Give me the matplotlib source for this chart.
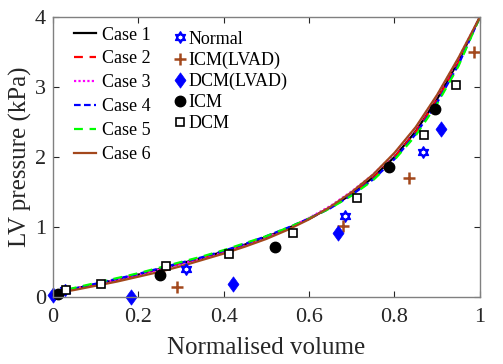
import numpy as np
import matplotlib
matplotlib.use("Agg")
import matplotlib.pyplot as plt
from matplotlib.path import Path

plt.rcParams['font.family'] = ['Liberation Serif', 'DejaVu Serif']

# ---- model curves ----
vol = [0.00, 0.05, 0.10, 0.15, 0.20, 0.25, 0.30, 0.35, 0.40, 0.45, 0.50,
       0.55, 0.60, 0.65, 0.70, 0.75, 0.80, 0.85, 0.90, 0.95, 1.00]
case1 = [0.06, 0.12, 0.18, 0.25, 0.32, 0.40, 0.48, 0.56, 0.65, 0.75, 0.86,
         0.98, 1.12, 1.28, 1.47, 1.71, 2.00, 2.37, 2.83, 3.37, 4.00]
case2 = [0.06, 0.12, 0.18, 0.25, 0.32, 0.40, 0.48, 0.56, 0.65, 0.75, 0.86,
         0.98, 1.12, 1.28, 1.47, 1.70, 2.00, 2.36, 2.82, 3.36, 4.00]
case3 = [0.06, 0.12, 0.18, 0.25, 0.32, 0.39, 0.47, 0.55, 0.64, 0.74, 0.85,
         0.98, 1.13, 1.30, 1.51, 1.75, 2.05, 2.42, 2.88, 3.41, 4.00]
case4 = [0.06, 0.12, 0.19, 0.26, 0.33, 0.41, 0.49, 0.57, 0.66, 0.76, 0.87,
         0.99, 1.12, 1.27, 1.46, 1.68, 1.97, 2.33, 2.78, 3.32, 4.00]
case5 = [0.06, 0.13, 0.20, 0.27, 0.34, 0.42, 0.50, 0.58, 0.67, 0.77, 0.87,
         0.99, 1.12, 1.27, 1.45, 1.67, 1.96, 2.31, 2.76, 3.30, 4.00]
case6 = [0.05, 0.10, 0.16, 0.22, 0.29, 0.36, 0.44, 0.53, 0.62, 0.72, 0.83,
         0.96, 1.11, 1.29, 1.50, 1.75, 2.06, 2.43, 2.89, 3.42, 4.00]

# ---- experimental data ----
normal_x = [0.028, 0.313, 0.684, 0.866]
normal_y = [0.10, 0.40, 1.16, 2.07]
icm_lvad_x = [0.290, 0.680, 0.834, 0.986]
icm_lvad_y = [0.15, 1.02, 1.70, 3.50]
dcm_lvad_x = [0.000, 0.184, 0.422, 0.668, 0.909]
dcm_lvad_y = [0.03, 0.00, 0.19, 0.91, 2.40]
icm_x = [0.012, 0.252, 0.520, 0.788, 0.896]
icm_y = [0.04, 0.31, 0.71, 1.86, 2.68]
dcm_x = [0.030, 0.112, 0.266, 0.413, 0.563, 0.713, 0.869, 0.945]
dcm_y = [0.10, 0.18, 0.44, 0.61, 0.91, 1.41, 2.31, 3.03]

xticks = [0, 0.2, 0.4, 0.6, 0.8, 1]
xticklabels = ['0', '0.2', '0.4', '0.6', '0.8', '1']
yticks = [0, 1, 2, 3, 4]
yticklabels = ['0', '1', '2', '3', '4']

BROWN = '#A3481C'

# hexagram marker (two triangles)
ang1 = np.deg2rad([90, 210, 330])
ang2 = np.deg2rad([270, 30, 150])
verts = [(np.cos(a), np.sin(a)) for a in ang1] + [(0, 0)] + \
        [(np.cos(a), np.sin(a)) for a in ang2] + [(0, 0)]
codes = [Path.MOVETO, Path.LINETO, Path.LINETO, Path.CLOSEPOLY,
         Path.MOVETO, Path.LINETO, Path.LINETO, Path.CLOSEPOLY]
hexagram = Path(verts, codes)

# MATLAB-like diamond (taller than wide)
diamond = Path([(0, 1), (0.72, 0), (0, -1), (-0.72, 0), (0, 0)],
               [Path.MOVETO, Path.LINETO, Path.LINETO, Path.LINETO, Path.CLOSEPOLY])

fig = plt.figure(figsize=(5.03, 3.64), dpi=100)
ax = fig.add_axes([0.105, 0.184, 0.849, 0.769])

lw = 1.6
l1, = ax.plot(vol, case1, color='black', lw=lw, label='Case 1')
l2, = ax.plot(vol, case2, color='#FF0000', lw=lw, dashes=(4, 3), label='Case 2')
l3, = ax.plot(vol, case3, color='#FF00FF', lw=lw, dashes=(1, 1), label='Case 3')
l4, = ax.plot(vol, case4, color='#0000FF', lw=lw, dashes=(3, 1.5), label='Case 4')
l5, = ax.plot(vol, case5, color='#00FF00', lw=lw, dashes=(4, 3), label='Case 5')
l6, = ax.plot(vol, case6, color=BROWN, lw=lw, label='Case 6')

m1, = ax.plot(normal_x, normal_y, ls='none', marker=hexagram, ms=8, mfc='none',
              mec='#0000FF', mew=1.2, label='Normal', clip_on=False)
m2, = ax.plot(icm_lvad_x, icm_lvad_y, ls='none', marker='+', ms=8, mec=BROWN,
              mew=1.8, label='ICM(LVAD)', clip_on=False)
m3, = ax.plot(dcm_lvad_x, dcm_lvad_y, ls='none', marker=diamond, ms=11, mfc='#0000FF',
              mec='#0000FF', mew=0.5, label='DCM(LVAD)', clip_on=False)
m4, = ax.plot(icm_x, icm_y, ls='none', marker='o', ms=7.5, mfc='black',
              mec='black', label='ICM', clip_on=False)
m5, = ax.plot(dcm_x, dcm_y, ls='none', marker='s', ms=5.5, mfc='white',
              mec='black', mew=1.2, label='DCM', clip_on=False)

ax.set_xlim(0, 1)
ax.set_ylim(0, 4)
ax.set_xticks(xticks)
ax.set_xticklabels(xticklabels)
ax.set_yticks(yticks)
ax.set_yticklabels(yticklabels)
ax.tick_params(direction='in', top=True, right=True, labelsize=16,
               colors='#262626', length=4, width=0.8)
ax.tick_params(axis='x', pad=8)
ax.tick_params(axis='y', pad=5)
for s in ax.spines.values():
    s.set_color('#808080')
    s.set_linewidth(1.0)

ax.set_xlabel('Normalised volume', fontsize=18, color='#262626', labelpad=7)
ax.set_ylabel('LV pressure (kPa)', fontsize=18, color='#262626', labelpad=2)

leg1 = ax.legend(handles=[l1, l2, l3, l4, l5, l6], loc='upper left',
                 bbox_to_anchor=(0.025, 1.005), frameon=False, fontsize=13,
                 handlelength=1.2, handletextpad=0.35, labelspacing=0.38,
                 borderaxespad=0.2)
ax.add_artist(leg1)
leg2 = ax.legend(handles=[m1, m2, m3, m4, m5], loc='upper left',
                 bbox_to_anchor=(0.255, 0.99), frameon=False, fontsize=13,
                 handlelength=0.8, handletextpad=0.1, labelspacing=0.22,
                 borderaxespad=0.2)

fig.savefig('out.png', dpi=100)
